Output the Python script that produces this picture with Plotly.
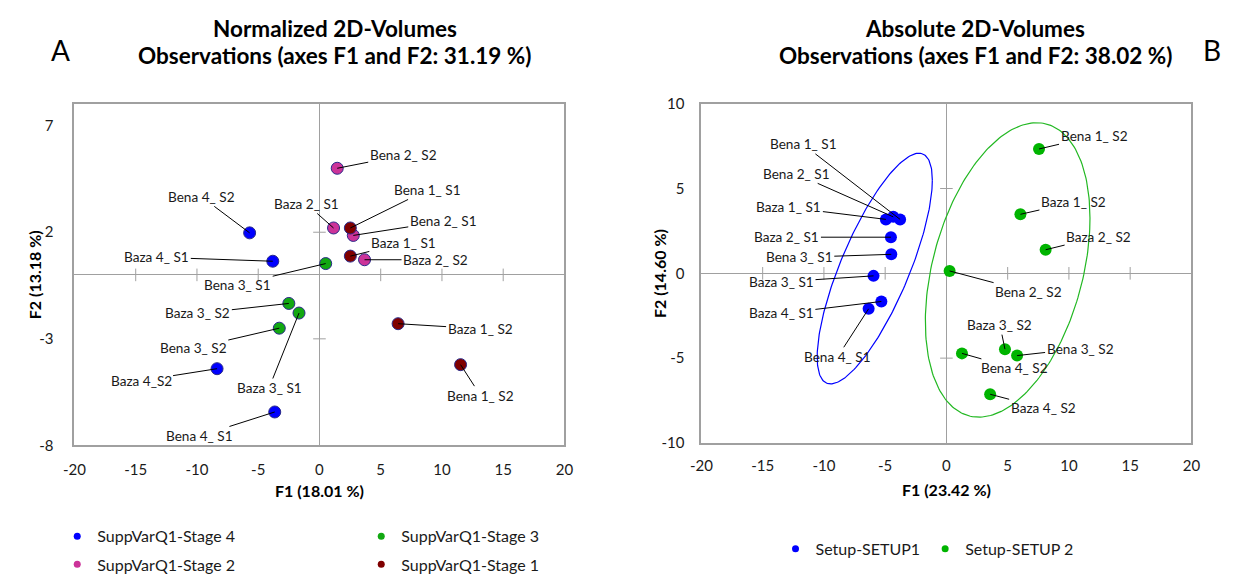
import numpy as np
import plotly.graph_objects as go

# ---------------- Panel A: normalized 2D-volumes ----------------
a_stage4_lab = ["Bena 4_ S2", "Baza 4_ S1", "Baza 4_S2", "Bena 4_ S1"]
a_stage4_x = [-5.70, -3.81, -8.36, -3.65]
a_stage4_y = [1.97, 0.64, -4.40, -6.43]

a_stage3_lab = ["Bena 3_ S1", "Baza 3_ S2", "Baza 3_ S1", "Bena 3_ S2"]
a_stage3_x = [0.51, -2.50, -1.67, -3.28]
a_stage3_y = [0.53, -1.34, -1.79, -2.50]

a_stage2_lab = ["Bena 2_ S2", "Baza 2_ S1", "Bena 2_ S1", "Baza 2_ S2"]
a_stage2_x = [1.45, 1.15, 2.76, 3.68]
a_stage2_y = [5.00, 2.20, 1.85, 0.71]

a_stage1_lab = ["Bena 1_ S1", "Baza 1_ S1", "Baza 1_ S2", "Bena 1_ S2"]
a_stage1_x = [2.52, 2.52, 6.42, 11.52]
a_stage1_y = [2.20, 0.88, -2.29, -4.21]

a_x_ticks = [-20, -15, -10, -5, 0, 5, 10, 15, 20]
a_y_ticks = [-8, -3, 2, 7]

# ---------------- Panel B: absolute 2D-volumes ----------------
b_setup1_lab = ["Bena 1_ S1", "Bena 2_ S1", "Baza 1_ S1", "Baza 2_ S1",
                "Bena 3_ S1", "Baza 3_ S1", "Baza 4_ S1", "Bena 4_ S1"]
b_setup1_x = [-3.78, -4.34, -4.94, -4.53, -4.50, -5.95, -5.31, -6.35]
b_setup1_y = [3.18, 3.33, 3.18, 2.13, 1.12, -0.15, -1.66, -2.09]

b_setup2_lab = ["Bena 1_ S2", "Baza 1_ S2", "Baza 2_ S2", "Bena 2_ S2",
                "Baza 3_ S2", "Bena 3_ S2", "Bena 4_ S2", "Baza 4_ S2"]
b_setup2_x = [7.56, 6.04, 8.10, 0.26, 4.78, 5.77, 1.27, 3.57]
b_setup2_y = [7.33, 3.48, 1.39, 0.14, -4.47, -4.85, -4.72, -7.13]

b_x_ticks = [-20, -15, -10, -5, 0, 5, 10, 15, 20]
b_y_ticks = [-10, -5, 0, 5, 10]

# confidence ellipses: centre, half-extent along F1 / F2, correlation
b_setup1_ell = dict(cx=-5.85, cy=0.28, sx=4.70, sy=6.80, rho=0.767)
b_setup2_ell = dict(cx=5.00, cy=0.20, sx=6.72, sy=8.68, rho=0.351)

# ---------------- label placement (pixel offsets of the text from its point) ----------------
a_stage4_off = [(-48, -36), (-116, -4), (-76, 12), (-75, 24)]
a_stage3_off = [(-88, 21), (-91, 10), (-30, 75), (-86, 20)]
a_stage2_off = [(66, -13), (-27, -24), (90, -14), (71, 0)]
a_stage1_off = [(77, -38), (53, -13), (82, 5), (20, 31)]
b_setup1_off = [(-97, -75), (-97, -43), (-97, -12), (-104, 0),
                (-92, 3), (-92, 6), (-100, 12), (-31, 48)]
b_setup2_off = [(55, -13), (53, -12), (53, -13), (79, 21),
                (-5, -24), (63, -7), (53, 15), (53, 14)]

FONT = "Lato, 'Open Sans', sans-serif"
BLUE = "#0000FF"
GREEN_A = "#12A812"
GREEN_B = "#00B400"
MAGENTA = "#CC3399"
DARKRED = "#7F0000"
FRAME = "#A0A0A0"
TEXT = "#1A1A1A"
W, H = 1244, 584

fig = go.Figure()

def add_points(xs, ys, color, xa, ya, outline):
    fig.add_trace(go.Scatter(
        x=xs, y=ys, mode="markers", xaxis=xa, yaxis=ya, showlegend=False,
        hoverinfo="skip",
        marker=dict(size=12, color=color,
                    line=dict(width=1 if outline else 0, color="#2A2A8A")),
    ))

def add_legend_entry(name, color, legend):
    fig.add_trace(go.Scatter(
        x=[None], y=[None], mode="markers", name=name, legend=legend,
        marker=dict(size=7, color=color),
    ))

def add_cross_ticks(xa, ya, xt, yt):
    # small crossing tick marks along the two zero lines
    xin = [v for v in xt[1:-1] if v != 0]
    yin = [v for v in yt[1:-1] if v != 0]
    fig.add_trace(go.Scatter(
        x=xin, y=[0] * len(xin), mode="markers", xaxis=xa, yaxis=ya,
        showlegend=False, hoverinfo="skip",
        marker=dict(symbol="line-ns", size=9, line=dict(width=1, color=FRAME)),
    ))
    fig.add_trace(go.Scatter(
        x=[0] * len(yin), y=yin, mode="markers", xaxis=xa, yaxis=ya,
        showlegend=False, hoverinfo="skip",
        marker=dict(symbol="line-ew", size=9, line=dict(width=1, color=FRAME)),
    ))

def add_ellipse(e, color, xa, ya):
    t = np.linspace(0, 2 * np.pi, 241)
    ex = e["cx"] + e["sx"] * np.cos(t)
    ey = e["cy"] + e["sy"] * (e["rho"] * np.cos(t) + np.sqrt(1 - e["rho"] ** 2) * np.sin(t))
    fig.add_trace(go.Scatter(
        x=ex, y=ey, mode="lines", xaxis=xa, yaxis=ya, showlegend=False,
        hoverinfo="skip", line=dict(color=color, width=1.2),
    ))

annotations = []

def add_labels(labels, xs, ys, offs, xa, ya):
    for lab, x, y, (dx, dy) in zip(labels, xs, ys, offs):
        annotations.append(dict(
            x=x, y=y, xref=xa, yref=ya, text=lab, showarrow=True,
            arrowhead=0, arrowwidth=1, arrowcolor="black", standoff=0,
            ax=dx, ay=dy, font=dict(family=FONT, size=13.6, color=TEXT),
        ))

# panel A
add_cross_ticks("x", "y", a_x_ticks, a_y_ticks)
add_points(a_stage4_x, a_stage4_y, BLUE, "x", "y", True)
add_points(a_stage3_x, a_stage3_y, GREEN_A, "x", "y", True)
add_points(a_stage2_x, a_stage2_y, MAGENTA, "x", "y", True)
add_points(a_stage1_x, a_stage1_y, DARKRED, "x", "y", True)
add_labels(a_stage4_lab, a_stage4_x, a_stage4_y, a_stage4_off, "x", "y")
add_labels(a_stage3_lab, a_stage3_x, a_stage3_y, a_stage3_off, "x", "y")
add_labels(a_stage2_lab, a_stage2_x, a_stage2_y, a_stage2_off, "x", "y")
add_labels(a_stage1_lab, a_stage1_x, a_stage1_y, a_stage1_off, "x", "y")

# panel B
add_cross_ticks("x2", "y2", b_x_ticks, b_y_ticks)
add_ellipse(b_setup1_ell, BLUE, "x2", "y2")
add_ellipse(b_setup2_ell, "#22B822", "x2", "y2")
add_points(b_setup1_x, b_setup1_y, BLUE, "x2", "y2", False)
add_points(b_setup2_x, b_setup2_y, GREEN_B, "x2", "y2", False)
add_labels(b_setup1_lab, b_setup1_x, b_setup1_y, b_setup1_off, "x2", "y2")
add_labels(b_setup2_lab, b_setup2_x, b_setup2_y, b_setup2_off, "x2", "y2")

# legend entries
add_legend_entry("SuppVarQ1-Stage 4", BLUE, "legend")
add_legend_entry("SuppVarQ1-Stage 3", GREEN_A, "legend")
add_legend_entry("SuppVarQ1-Stage 2", MAGENTA, "legend2")
add_legend_entry("SuppVarQ1-Stage 1", DARKRED, "legend2")
add_legend_entry("Setup-SETUP1", BLUE, "legend3")
add_legend_entry("Setup-SETUP 2", GREEN_B, "legend3")

def px_x(p):
    return p / W

def px_y(p):
    return 1 - p / H

def text_ann(text, x, y, size, bold=False, angle=0):
    annotations.append(dict(
        x=px_x(x), y=px_y(y), xref="paper", yref="paper", showarrow=False,
        text=f"<b>{text}</b>" if bold else text, textangle=angle,
        xanchor="center", yanchor="middle",
        font=dict(family=FONT, size=size, color="#000000"),
    ))

text_ann("Normalized 2D-Volumes", 329, 19, 22.5, bold=True)
text_ann("Observations (axes F1 and F2: 31.19 %)", 329, 47, 22.5, bold=True)
text_ann("Absolute 2D-Volumes", 980, 19, 22.5, bold=True)
text_ann("Observations (axes F1 and F2: 38.02 %)", 980, 47, 22.5, bold=True)
text_ann("A", 50, 41, 28)
text_ann("B", 1221, 41, 28)
text_ann("F1 (18.01 %)", 314, 496, 16, bold=True)
text_ann("F1 (23.42 %)", 951, 495, 16, bold=True)
text_ann("F2 (13.18 %)", 24, 273, 16, bold=True, angle=-90)
text_ann("F2 (14.60 %)", 659, 272, 16, bold=True, angle=-90)

def fmt(v):
    return str(v)  # keep ASCII hyphen for negatives

axis_common = dict(
    showgrid=False, zeroline=True, zerolinecolor=FRAME, zerolinewidth=1,
    showline=True, linecolor=FRAME, linewidth=2, mirror=True, ticks="",
    tickfont=dict(family=FONT, size=15, color=TEXT),
)

legend_common = dict(
    orientation="h", xanchor="left", yanchor="middle",
    font=dict(family=FONT, size=16, color=TEXT),
    bgcolor="rgba(0,0,0,0)", itemclick=False, itemdoubleclick=False,
)

fig.update_layout(
    width=W, height=H, margin=dict(l=0, r=0, t=0, b=0),
    paper_bgcolor="white", plot_bgcolor="white",
    font=dict(family=FONT),
    xaxis=dict(domain=[64.5 / W, 562.5 / W], range=[-20, 20], anchor="y",
               tickvals=a_x_ticks, ticktext=[fmt(v) for v in a_x_ticks],
               ticklabelstandoff=10, **axis_common),
    yaxis=dict(domain=[px_y(449.3), px_y(97.3)], range=[-8, 8], anchor="x",
               tickvals=a_y_ticks, ticktext=[fmt(v) for v in a_y_ticks],
               ticklabelstandoff=16, **axis_common),
    xaxis2=dict(domain=[701.7 / W, 1199.7 / W], range=[-20, 20], anchor="y2",
                tickvals=b_x_ticks, ticktext=[fmt(v) for v in b_x_ticks],
                ticklabelstandoff=8, **axis_common),
    yaxis2=dict(domain=[px_y(446.7), px_y(96.7)], range=[-10, 10], anchor="x2",
                tickvals=b_y_ticks, ticktext=[fmt(v) for v in b_y_ticks],
                ticklabelstandoff=12, **axis_common),
    legend=dict(x=px_x(47), y=px_y(543), entrywidth=259,
                entrywidthmode="pixels", **legend_common),
    legend2=dict(x=px_x(47), y=px_y(572), entrywidth=259,
                 entrywidthmode="pixels", **legend_common),
    legend3=dict(x=px_x(777), y=px_y(556), **legend_common),
    annotations=annotations,
)

fig.write_html("out.html")
